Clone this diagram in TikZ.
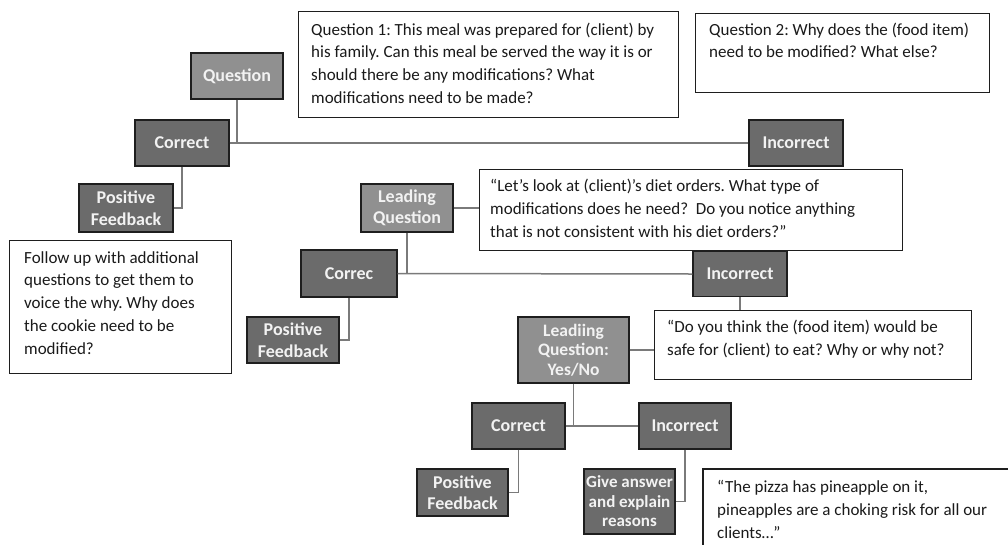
\documentclass[tikz,border=0pt]{standalone}
\usepackage{fontspec}
\setmainfont{Carlito}
\frenchspacing
\definecolor{lightbox}{HTML}{909090}
\definecolor{darkbox}{HTML}{6B6B6B}
\definecolor{boxline}{HTML}{1E1E1E}
\definecolor{conn}{HTML}{7A7A7A}
\definecolor{labeltext}{HTML}{F2F2F2}
\definecolor{bodytext}{HTML}{1A1A1A}
\tikzset{
  lbl/.style={draw=boxline, line width=1.4pt, inner sep=1pt, align=center,
    text=labeltext, font=\fontsize{18}{21.5}\selectfont\bfseries},
  lightnode/.style={lbl, fill=lightbox},
  darknode/.style={lbl, fill=darkbox},
  tbox/.style={draw=boxline, line width=1.4pt, fill=white, anchor=north west, inner sep=0pt},
  ttext/.style={anchor=north west, inner sep=0pt, align=left, text=bodytext,
    font=\fontsize{17}{22.8}\selectfont},
  link/.style={draw=conn, line width=1.5pt}
}
\begin{document}
\begin{tikzpicture}[x=1pt,y=-1pt]
\useasboundingbox (0,0) rectangle (1008,544);
% text boxes
\node[tbox, minimum width=380pt, minimum height=106pt] (q1box) at (298,11) {};
\node[ttext] (q1t) at (311,22.5) {Question 1: This meal was prepared for (client) by\\his family. Can this meal be served the way it is or\\should there be any modifications? What\\modifications need to be made?};
\node[tbox, minimum width=294pt, minimum height=79pt] (q2box) at (695,13) {};
\node[ttext] (q2t) at (709,22.5) {Question 2: Why does the (food item)\\need to be modified? What else?};
\node[tbox, minimum width=423pt, minimum height=81pt] (lqbox) at (479,169) {};
\node[ttext] (lqt) at (490,179) {“Let’s look at (client)’s diet orders. What type of\\modifications does he need?\ \ Do you notice anything\\that is not consistent with his diet orders?”};
\node[tbox, minimum width=222pt, minimum height=133pt] (fubox) at (9,240) {};
\node[ttext] (fut) at (24,251) {Follow up with additional\\questions to get them to\\voice the why. Why does\\the cookie need to be\\modified?};
\node[tbox, minimum width=317pt, minimum height=69pt] (dybox) at (654,310) {};
\node[ttext] (dyt) at (667,320) {“Do you think the (food item) would be\\safe for (client) to eat? Why or why not?};
\coordinate (pzbl) at (703,548);
\coordinate (pztl) at (703,469);
\coordinate (pztr) at (1012,469);
\draw[draw=boxline, line width=1.4pt] (pzbl) -- (pztl) -- (pztr);
\node[ttext] (pzt) at (717,480.5) {“The pizza has pineapple on it,\\pineapples are a choking risk for all our\\clients…”};
% flow nodes
\node[lightnode, minimum width=92pt, minimum height=46pt] (question) at (237,76) {Question};
\node[darknode, minimum width=94pt, minimum height=46pt] (correct1) at (182,143) {Correct};
\node[darknode, minimum width=94pt, minimum height=46pt] (incorrect1) at (796,143) {Incorrect};
\node[darknode, minimum width=94pt, minimum height=48pt] (pf1) at (126,208) {Positive\\Feedback};
\node[lightnode, minimum width=92pt, minimum height=48pt] (lq) at (407,208) {Leading\\Question};
\node[darknode, minimum width=96pt, minimum height=47pt] (correct2) at (349,273.5) {Correc};
\node[darknode, minimum width=94pt, minimum height=45pt] (incorrect2) at (740,274) {Incorrect};
\node[darknode, minimum width=92pt, minimum height=46pt] (pf2) at (293,340) {Positive\\Feedback};
\node[lightnode, minimum width=111pt, minimum height=66pt, font=\fontsize{17.5}{19.5}\selectfont\bfseries] (lqyn) at (573.5,350) {Leadiing\\Question:\\Yes/No};
\node[darknode, minimum width=93pt, minimum height=46pt] (correct3) at (518.5,426) {Correct};
\node[darknode, minimum width=92pt, minimum height=46pt] (incorrect3) at (685,426) {Incorrect};
\node[darknode, minimum width=91pt, minimum height=47pt] (pf3) at (462.5,492.5) {Positive\\Feedback};
\node[darknode, minimum width=91pt, minimum height=65pt, inner sep=0pt, font=\fontsize{17}{19.5}\selectfont\bfseries] (give) at (629.5,501.5) {Give answer\\and explain\\reasons};
% connectors
\draw[link] (correct1.east) -- (incorrect1.west);
\draw[link] (question.south) -- (question.south |- correct1.east);
\draw[link] (correct1.south) |- (pf1.east);
\draw[link] (lq.east) -- (lq.east -| lqbox.west);
\draw[link] (correct2.east) -- (incorrect2.west);
\draw[link] (lq.south) -- (lq.south |- correct2.east);
\draw[link] (correct2.south) |- (pf2.east);
\draw[link] (incorrect2.south) -- (incorrect2.south |- dybox.north);
\draw[link] (lqyn.east) -- (lqyn.east -| dybox.west);
\draw[link] (correct3.east) -- (incorrect3.west);
\draw[link] (lqyn.south) -- (lqyn.south |- correct3.east);
\draw[link] (correct3.south) |- (pf3.east);
\draw[link] (incorrect3.south) |- (give.east);
\end{tikzpicture}
\end{document}
